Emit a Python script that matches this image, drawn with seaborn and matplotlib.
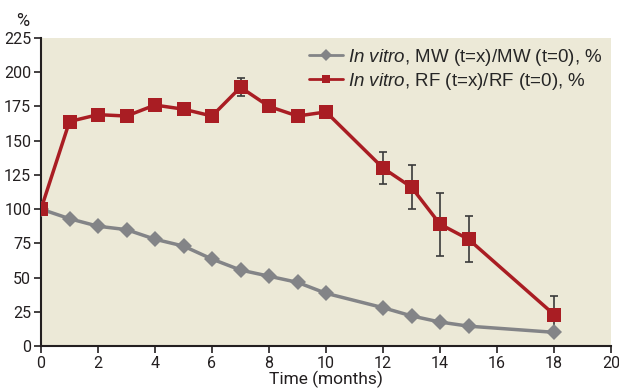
import numpy as np
import pandas as pd
import seaborn as sns
from matplotlib import pyplot as plt

# months
time_mw = [0, 1, 2, 3, 4, 5, 6, 7, 8, 9, 10, 12, 13, 14, 15, 18]
mw_values = [100, 93, 87.5, 85, 78, 73, 63.5, 55.5, 51, 46.5, 38.5, 28, 22, 17.5, 14.5, 10]

time_rf = [0, 1, 2, 3, 4, 5, 6, 7, 8, 9, 10, 12, 13, 14, 15, 18]
rf_values = [100, 164, 169, 168, 176, 173, 168, 189, 175, 168, 171, 130, 116, 89, 78, 23]
rf_err = [0, 1.5, 3.5, 4, 4.5, 4, 3, 6.5, 1.5, 1.5, 1.5, 12, 16, 23, 17, 13.5]

mw_label = '$\\it{In\\ vitro}$, MW (t=x)/MW (t=0), %'
rf_label = '$\\it{In\\ vitro}$, RF (t=x)/RF (t=0), %'

df = pd.concat([
    pd.DataFrame({'Time': time_mw, 'Value': mw_values, 'Series': mw_label}),
    pd.DataFrame({'Time': time_rf, 'Value': rf_values, 'Series': rf_label}),
])

sns.set_style('ticks')
plt.rcParams['font.family'] = ['Liberation Sans', 'DejaVu Sans']
plt.rcParams['mathtext.fontset'] = 'custom'
plt.rcParams['mathtext.it'] = 'Liberation Sans:italic'
plt.rcParams['mathtext.rm'] = 'Liberation Sans'
narrow = ['Roboto', 'DejaVu Sans']

fig = plt.figure(figsize=(6.19, 3.89), dpi=100)
ax = fig.add_axes([41 / 619, 43 / 389, 570 / 619, 308 / 389])
ax.set_facecolor('#ECE9D7')

red = '#A91D23'
gray = '#838487'

ax.errorbar(time_rf, rf_values, yerr=rf_err, fmt='none', ecolor='#3a3a3a',
            elinewidth=1.2, capsize=3, capthick=1.2, zorder=2)

sns.lineplot(data=df, x='Time', y='Value', hue='Series', style='Series',
             palette={mw_label: gray, rf_label: red},
             markers={mw_label: 'D', rf_label: 's'},
             dashes=False, linewidth=2.5, markersize=8, markeredgewidth=0,
             ax=ax, zorder=3)
for line in ax.lines:
    if line.get_marker() == 's':
        line.set_markersize(10)

ax.set_xlim(0, 20)
ax.set_ylim(0, 225)
ax.set_xticks(range(0, 21, 2))
ax.set_yticks(range(0, 226, 25))
sns.despine(ax=ax)
for s in ['left', 'bottom']:
    ax.spines[s].set_linewidth(1.5)
    ax.spines[s].set_color('#231f20')
ax.tick_params(axis='both', length=5, width=1.2, color='#231f20', labelcolor='#231f20',
               labelsize=11.5, pad=2)
for lab in ax.get_xticklabels() + ax.get_yticklabels():
    lab.set_family(narrow)

ax.set_xlabel('Time (months)', fontsize=12.5, family=narrow,
              color='#231f20', labelpad=0)
ax.set_ylabel('')
fig.text(16 / 619, 1 - 21 / 389, '%', fontsize=13, family=narrow,
         color='#231f20', va='center')

handles, labels = ax.get_legend_handles_labels()
leg = ax.legend(handles, labels, loc='upper right', frameon=False, fontsize=13.5,
                handlelength=1.8, handletextpad=0.3, labelspacing=0.15,
                borderaxespad=0.0, bbox_to_anchor=(0.999, 0.995))
for h in leg.legend_handles:
    h.set_markersize(6)
    h.set_linewidth(2)

fig.savefig('out.png', dpi=100)
